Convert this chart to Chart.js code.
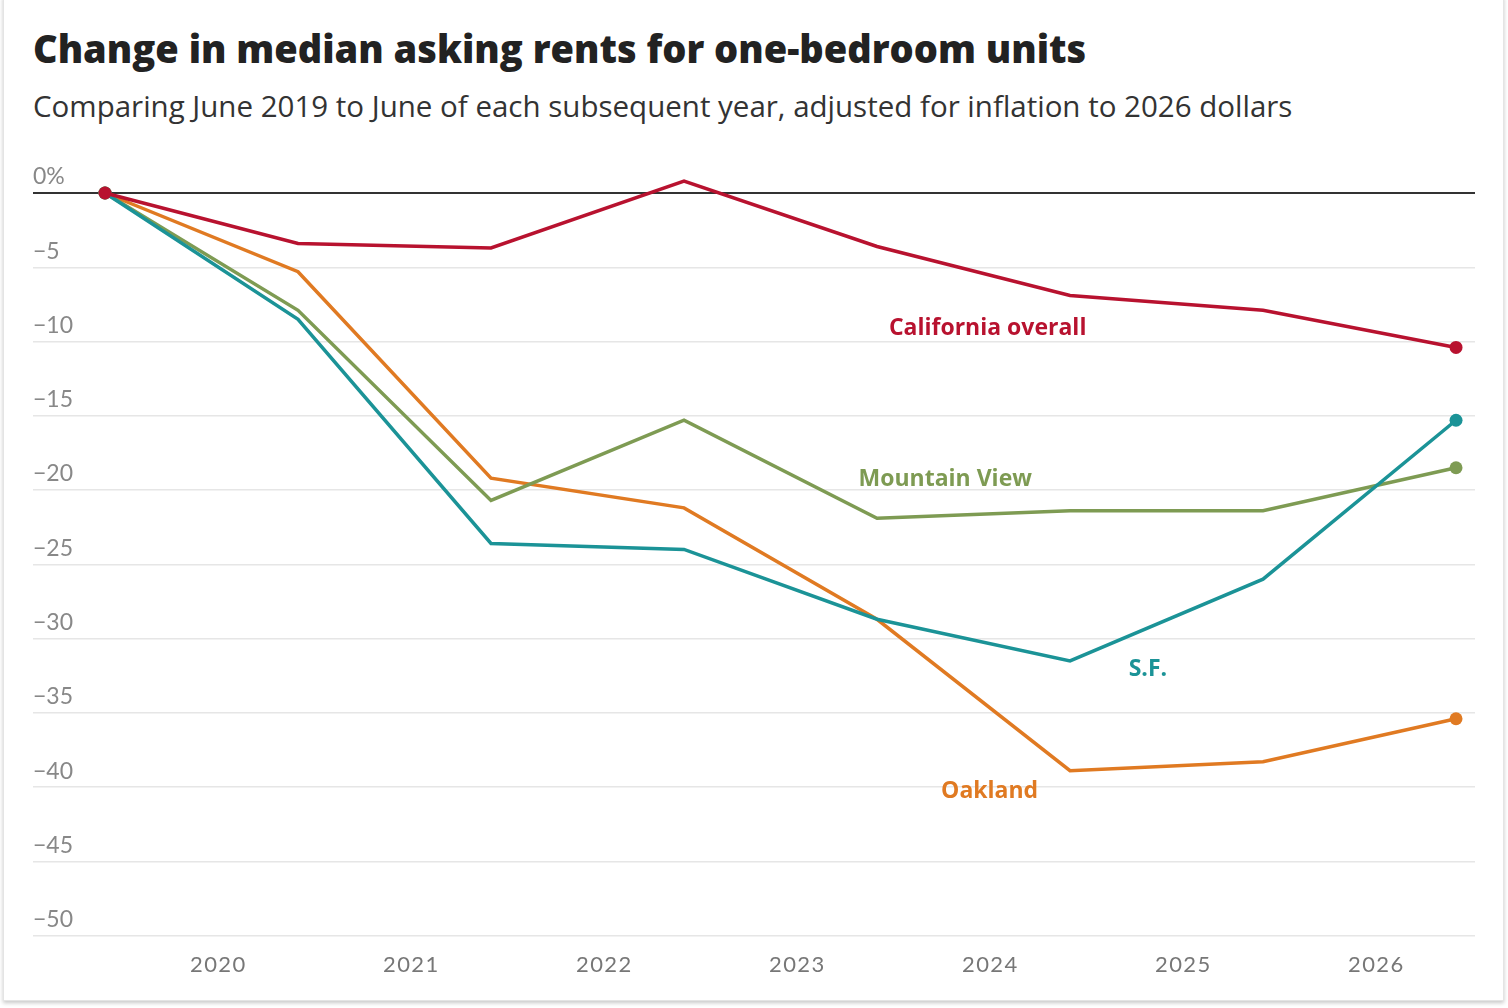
<!DOCTYPE html>
<html>
<head>
<meta charset="utf-8">
<script src="https://cdn.jsdelivr.net/npm/chart.js@4.4.1/dist/chart.umd.min.js"></script>
<style>
  html, body { margin: 0; padding: 0; background: #fff; }
  body { width: 1508px; height: 1008px; position: relative; overflow: hidden; font-family: "Open Sans", Lato, sans-serif; }
  .card {
    position: absolute; left: 3px; top: -4px; width: 1499px; height: 1003px;
    border: 1px solid #e4e4e4; background: #fff;
    box-shadow: 0 2px 4px rgba(0,0,0,0.22);
  }
  h1 {
    position: absolute; left: 33px; top: 22px; margin: 0;
    font-size: 38px; font-weight: 800; color: #222; white-space: nowrap;
  }
  .sub {
    position: absolute; left: 33px; top: 85px; margin: 0;
    font-size: 29.5px; font-weight: 400; color: #333; white-space: nowrap;
  }
  #wrap { position: absolute; left: 0; top: 0; width: 1508px; height: 1008px; }
</style>
</head>
<body>
<div class="card"></div>
<h1>Change in median asking rents for one-bedroom units</h1>
<p class="sub">Comparing June 2019 to June of each subsequent year, adjusted for inflation to 2026 dollars</p>
<div id="wrap"><canvas id="chart"></canvas></div>
<script>
// June of each year, 2019 through 2026
const years = [2019, 2020, 2021, 2022, 2023, 2024, 2025, 2026];
const xTickYears = [2020, 2021, 2022, 2023, 2024, 2025, 2026];
const yTicks = [0, -5, -10, -15, -20, -25, -30, -35, -40, -45, -50];

// percent change vs June 2019
const california = [0, -3.4, -3.7, 0.8, -3.6, -6.9, -7.9, -10.4];
const sanFrancisco = [0, -8.5, -23.6, -24.0, -28.7, -31.5, -26.0, -15.3];
const mountainView = [0, -7.9, -20.7, -15.3, -21.9, -21.4, -21.4, -18.5];
const oakland = [0, -5.3, -19.2, -21.2, -28.7, -38.9, -38.3, -35.4];

const colors = {
    california: "#b8122f",
    sf: "#1b9397",
    mv: "#7e9b53",
    oakland: "#e07a22",
};

// label positions in data units [x (year), y (%)]
const seriesLabels = [
    { text: "California overall", x: 2023.99, y: -9.15, color: colors.california },
    { text: "Mountain View", x: 2023.77, y: -19.3, color: colors.mv },
    { text: "S.F.", x: 2024.82, y: -32.05, color: colors.sf },
    { text: "Oakland", x: 2024.0, y: -40.3, color: colors.oakland },
];

// points sit at June 1 of each year
const toX = (y) => y + 5 / 12;

function series(label, values, color) {
    return {
        label: label,
        data: values.map((v, i) => ({ x: toX(years[i]), y: v })),
        borderColor: color,
        backgroundColor: color,
        borderWidth: 3.5,
        pointRadius: (ctx) => (ctx.dataIndex === 0 || ctx.dataIndex === values.length - 1 ? 6.5 : 0),
        pointHoverRadius: 0,
        pointBorderWidth: 0,
        tension: 0,
        clip: false,
    };
}

const labelPlugin = {
    id: "seriesLabels",
    afterDatasetsDraw(chart) {
        const ctx = chart.ctx;
        const xs = chart.scales.x;
        const ys = chart.scales.y;
        ctx.save();
        ctx.font = "700 23px 'Open Sans'";
        ctx.textAlign = "center";
        ctx.textBaseline = "middle";
        seriesLabels.forEach((l) => {
            ctx.fillStyle = l.color;
            ctx.fillText(l.text, xs.getPixelForValue(l.x), ys.getPixelForValue(l.y));
        });
        ctx.restore();
    },
};

const canvas = document.getElementById("chart");
new Chart(canvas, {
    type: "line",
    data: {
        datasets: [
            series("California overall", california, colors.california),
            series("S.F.", sanFrancisco, colors.sf),
            series("Mountain View", mountainView, colors.mv),
            series("Oakland", oakland, colors.oakland),
        ],
    },
    options: {
        responsive: true,
        maintainAspectRatio: false,
        animation: false,
        layout: { padding: { left: 33, right: 33, top: 193, bottom: 14 } },
        scales: {
            x: {
                type: "linear",
                min: 2019.0436,
                max: 2026.515,
                afterBuildTicks: (scale) => {
                    scale.ticks = xTickYears.map((v) => ({ value: v }));
                },
                grid: { display: false, drawTicks: false },
                border: { display: false },
                ticks: {
                    padding: 16,
                    color: "#777",
                    font: { family: "Lato", size: 22 },
                    callback: (v) => String(v).split("").join(String.fromCharCode(8202)),
                    maxRotation: 0,
                },
            },
            y: {
                min: -50,
                max: 0,
                afterBuildTicks: (scale) => {
                    scale.ticks = yTicks.map((v) => ({ value: v }));
                },
                grid: {
                    drawTicks: false,
                    color: (ctx) => (ctx.tick && ctx.tick.value === 0 ? "#333" : "#e6e6e6"),
                    lineWidth: (ctx) => (ctx.tick && ctx.tick.value === 0 ? 2 : 1.5),
                },
                border: { display: false },
                ticks: {
                    mirror: true,
                    padding: 0,
                    labelOffset: -16,
                    color: "#888",
                    font: { family: "Lato", size: 23 },
                    callback: (v) => (v === 0 ? "0%" : "\u2212" + Math.abs(v)),
                },
            },
        },
        plugins: {
            legend: { display: false },
            tooltip: { enabled: false },
        },
    },
    plugins: [labelPlugin],
});
</script>
</body>
</html>
